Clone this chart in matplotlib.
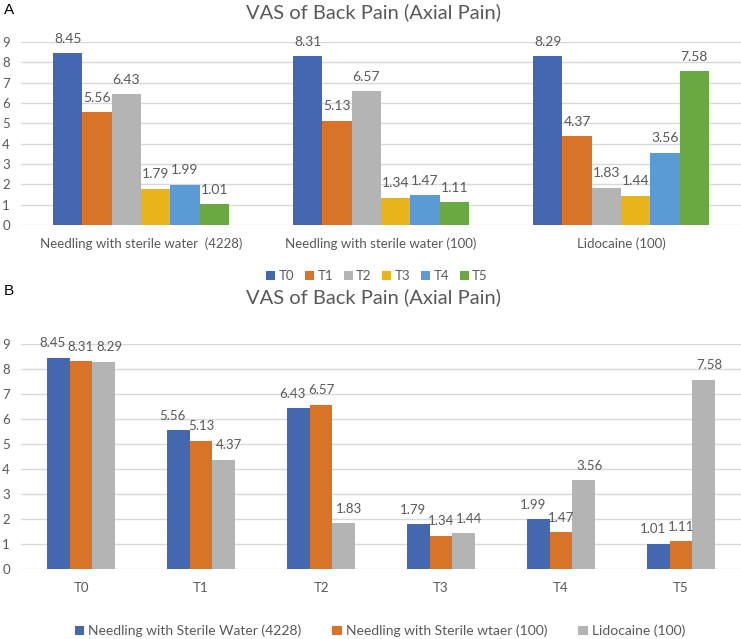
import matplotlib.pyplot as plt
import numpy as np

plt.rcParams['font.family'] = ['Lato', 'DejaVu Sans']

# Panel A: groups = treatment, series = time point
groups_a = ['Needling with sterile water  (4228)', 'Needling with sterile water (100)', 'Lidocaine (100)']
times = ['T0', 'T1', 'T2', 'T3', 'T4', 'T5']
water_4228 = [8.45, 5.56, 6.43, 1.79, 1.99, 1.01]
water_100 = [8.31, 5.13, 6.57, 1.34, 1.47, 1.11]
lidocaine_100 = [8.29, 4.37, 1.83, 1.44, 3.56, 7.58]

# Panel B series names (as written in the original legend)
series_b = ['Needling with Sterile Water (4228)', 'Needling with Sterile wtaer (100)', 'Lidocaine (100)']

time_colors = ['#4468B0', '#D97328', '#B4B4B4', '#E9B31A', '#5B9BD5', '#6AA842']
grey_text = '#595959'
grid_col = '#D9D9D9'

fig = plt.figure(figsize=(7.41, 6.39), dpi=100)


def style_axes(ax):
    ax.set_ylim(0, 9)
    ax.set_yticks(range(10))
    ax.yaxis.grid(True, color=grid_col, linewidth=1)
    ax.set_axisbelow(True)
    for s in ax.spines.values():
        s.set_visible(False)
    ax.tick_params(axis='both', length=0, colors=grey_text, labelsize=9.5)
    ax.tick_params(axis='y', pad=8)
    ax.tick_params(axis='x', pad=9)


# ---- Panel A ----
axA = fig.add_axes([21 / 741, 1 - 225 / 639, 720 / 741, (225 - 42) / 639])
by_time = np.array([water_4228, water_100, lidocaine_100]).T  # rows = time points
x = np.arange(len(groups_a))
w = 0.122
for i, t in enumerate(times):
    pos = x + (i - 2.5) * w
    bars = axA.bar(pos, by_time[i], width=w, color=time_colors[i], label=t)
    axA.bar_label(bars, labels=[f'{v:.2f}' for v in by_time[i]], padding=6,
                  color=grey_text, fontsize=10)
axA.set_xlim(-0.5, 2.5)
axA.set_xticks(x)
axA.set_xticklabels(groups_a)
style_axes(axA)
fig.text(373 / 741, 1 - 12 / 639, 'VAS of Back Pain (Axial Pain)', ha='center', va='center',
         fontsize=14.5, color=grey_text)
fig.text(4 / 741, 1 - 10 / 639, 'A', ha='left', va='center', fontsize=11,
         family='Liberation Sans', color='black')
fig.legend(*axA.get_legend_handles_labels(), loc='center', ncol=6,
           bbox_to_anchor=(377 / 741, 1 - 276 / 639), frameon=False,
           handlelength=0.7, handleheight=0.7, handletextpad=0.25,
           columnspacing=0.8, fontsize=9.5, labelcolor=grey_text)

# ---- Panel B ----
axB = fig.add_axes([21 / 741, 1 - 569 / 639, 720 / 741, (569 - 344) / 639])
xb = np.arange(len(times))
wb = 0.19
label_shift = [-4, 0, 4]  # nudge labels sideways so neighbours don't collide
for j, vals in enumerate([water_4228, water_100, lidocaine_100]):
    pos = xb + (j - 1) * wb
    bars = axB.bar(pos, vals, width=wb, color=time_colors[j], label=series_b[j])
    texts = axB.bar_label(bars, labels=[f'{v:.2f}' for v in vals], padding=6,
                          color=grey_text, fontsize=9.5)
    for t in texts:
        xy = t.xyann
        t.xyann = (xy[0] + label_shift[j], xy[1])
axB.set_xlim(-0.5, 5.5)
axB.set_xticks(xb)
axB.set_xticklabels(times)
style_axes(axB)
fig.text(373 / 741, 1 - 297 / 639, 'VAS of Back Pain (Axial Pain)', ha='center', va='center',
         fontsize=14.5, color=grey_text)
fig.text(4 / 741, 1 - 291 / 639, 'B', ha='left', va='center', fontsize=11,
         family='Liberation Sans', color='black')
fig.legend(*axB.get_legend_handles_labels(), loc='center', ncol=3,
           bbox_to_anchor=(380 / 741, 1 - 631 / 639), frameon=False,
           handlelength=0.7, handleheight=0.7, handletextpad=0.3,
           columnspacing=2.2, fontsize=10, labelcolor=grey_text)

fig.savefig('out.png', dpi=100)
